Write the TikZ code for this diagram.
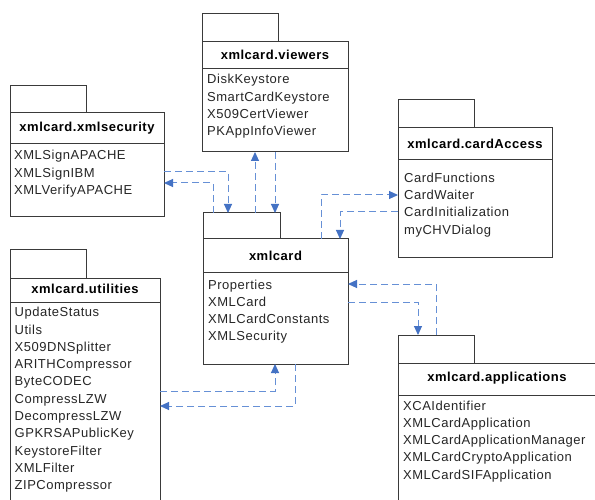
\documentclass[tikz,border=0pt]{standalone}
\usepackage{fontspec}
\setmainfont{Liberation Sans}[LetterSpace=4]
\usetikzlibrary{arrows.meta}
\definecolor{linkblue}{HTML}{6690D6}
\definecolor{tipblue}{HTML}{4472C4}
\definecolor{boxline}{HTML}{3A3A3A}
\begin{document}
\begin{tikzpicture}[x=1pt,y=-1pt,
  pkg/.style={draw=boxline, line width=1pt, inner sep=0pt, outer sep=0pt, anchor=north west, fill=white},
  tab/.style={pkg, anchor=south west, minimum width=76pt, minimum height=28pt},
  sepline/.style={draw=boxline, line width=1pt},
  ttl/.style={font=\bfseries\fontsize{13}{15}\selectfont, anchor=base, inner sep=0pt},
  item/.style={font=\fontsize{13}{15}\selectfont, anchor=base west, inner sep=0pt, text=black!85},
  link/.style={draw=linkblue, line width=1pt, dash pattern=on 7pt off 4pt,
    -{Triangle[length=9pt,width=8pt,color=tipblue,fill=tipblue]}}]
\useasboundingbox (0,0) rectangle (595,500);
\clip (0,0) rectangle (595,500);
\fill[white] (0,0) rectangle (595,500);

% xmlcard.viewers
\node[pkg, minimum width=146pt, minimum height=110pt] (view) at (202,42) {};
\node[tab] (viewtab) at (view.north west) {};
\draw[sepline] (202,69) -- (348,69);
\node[ttl] (viewT) at (275,59.3) {xmlcard.viewers};
\foreach \t [count=\i from 0] in {DiskKeystore,SmartCardKeystore,X509CertViewer,PKAppInfoViewer}
  \node[item] (viewI\i) at (207,84+17.3*\i) {\t};

% xmlcard.xmlsecurity
\node[pkg, minimum width=154pt, minimum height=104pt] (sec) at (10,113) {};
\node[tab, minimum height=27pt] (sectab) at (sec.north west) {};
\draw[sepline] (10,144) -- (164,144);
\node[ttl] (secT) at (87,131.7) {xmlcard.xmlsecurity};
\foreach \t [count=\i from 0] in {XMLSignAPACHE,XMLSignIBM,XMLVerifyAPACHE}
  \node[item] (secI\i) at (14,160+17.3*\i) {\t};

% xmlcard.cardAccess
\node[pkg, minimum width=154pt, minimum height=129pt] (ca) at (398,128) {};
\node[tab] (catab) at (ca.north west) {};
\draw[sepline] (398,160) -- (552,160);
\node[ttl] (caT) at (475,149) {xmlcard.cardAccess};
\foreach \t [count=\i from 0] in {CardFunctions,CardWaiter,CardInitialization,myCHVDialog}
  \node[item] (caI\i) at (404,182.3+17.3*\i) {\t};

% xmlcard
\node[pkg, minimum width=145pt, minimum height=125pt] (core) at (203,239) {};
\node[tab, minimum width=77pt, minimum height=26pt] (coretab) at (core.north west) {};
\draw[sepline] (203,272) -- (348,272);
\node[ttl] (coreT) at (275.5,260) {xmlcard};
\foreach \t [count=\i from 0] in {Properties,XMLCard,XMLCardConstants,XMLSecurity}
  \node[item] (coreI\i) at (208,289+17.3*\i) {\t};

% xmlcard.utilities
\node[pkg, minimum width=150pt, minimum height=240pt] (util) at (10,278) {};
\node[tab] (utiltab) at (util.north west) {};
\draw[sepline] (10,302) -- (160,302);
\node[ttl] (utilT) at (85,294) {xmlcard.utilities};
\foreach \t [count=\i from 0] in {UpdateStatus,Utils,X509DNSplitter,ARITHCompressor,ByteCODEC,CompressLZW,DecompressLZW,GPKRSAPublicKey,KeystoreFilter,XMLFilter,ZIPCompressor}
  \node[item] (utilI\i) at (14.5,316.7+17.3*\i) {\t};

% xmlcard.applications
\node[pkg, minimum width=200pt, minimum height=160pt] (app) at (398,363) {};
\node[tab] (apptab) at (app.north west) {};
\draw[sepline] (398,395) -- (598,395);
\node[ttl] (appT) at (497,381.7) {xmlcard.applications};
\foreach \t [count=\i from 0] in {XCAIdentifier,XMLCardApplication,XMLCardApplicationManager,XMLCardCryptoApplication,XMLCardSIFApplication}
  \node[item] (appI\i) at (403,410+17.3*\i) {\t};

% connector bend points
\coordinate (s1) at (228,172);
\coordinate (s2) at (213,183);
\coordinate (v1) at (255,0);
\coordinate (v2) at (275,0);
\coordinate (c1) at (321,195);
\coordinate (c2) at (340,212);
\coordinate (a1) at (436,284);
\coordinate (a2) at (418,302);
\coordinate (u1) at (275,391);
\coordinate (u2) at (295,406);

% connectors
\draw[link] (sec.east |- s1) -- (s1) -- (s1 |- coretab.north);
\draw[link] (s2 |- coretab.north) -- (s2) -- (sec.east |- s2);
\draw[link] (v1 |- coretab.north) -- (v1 |- view.south);
\draw[link] (v2 |- view.south) -- (v2 |- coretab.north);
\draw[link] (c1 |- core.north) -- (c1) -- (ca.west |- c1);
\draw[link] (ca.west |- c2) -- (c2) -- (c2 |- core.north);
\draw[link] (a1 |- apptab.north) -- (a1) -- (core.east |- a1);
\draw[link] (core.east |- a2) -- (a2) -- (a2 |- apptab.north);
\draw[link] (util.east |- u1) -- (u1) -- (u1 |- core.south);
\draw[link] (u2 |- core.south) -- (u2) -- (util.east |- u2);
\end{tikzpicture}
\end{document}
